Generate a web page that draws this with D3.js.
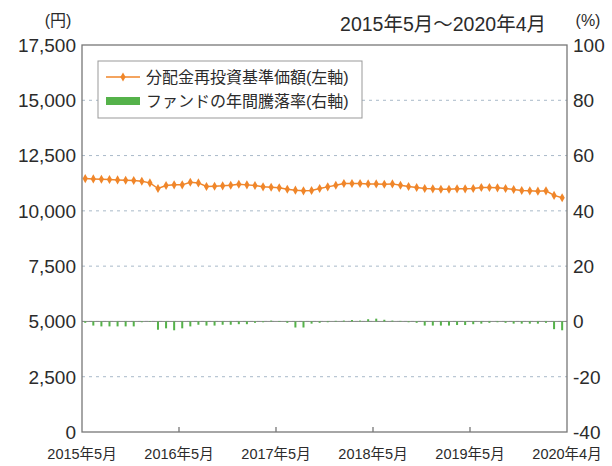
<!DOCTYPE html>
<html>
<head>
<meta charset="utf-8">
<script src="https://cdn.jsdelivr.net/npm/d3@7"></script>
<style>
body { margin: 0; background: #fff; }
svg { font-family: "Liberation Sans", "Noto Sans CJK JP", sans-serif; }
</style>
</head>
<body>
<script>
// monthly values, 2015/5 .. 2020/4 (60 months)
var navValues = [11460, 11445, 11430, 11415, 11400, 11385, 11370, 11340, 11265, 11010,
                 11145, 11175, 11175, 11295, 11265, 11100, 11115, 11130, 11160, 11205,
                 11175, 11145, 11085, 11070, 11040, 10980, 10935, 10905, 10920, 11010,
                 11085, 11160, 11235, 11235, 11235, 11220, 11220, 11205, 11220, 11160,
                 11100, 11055, 11010, 10995, 10980, 10980, 10995, 10995, 11010, 11055,
                 11055, 11040, 11010, 10965, 10920, 10905, 10890, 10905, 10700, 10590];

var returnValues = [-0.5, -1.5, -1.8, -1.8, -1.8, -1.8, -1.8, -0.3, -0.2, -3.0,
                    -2.5, -3.2, -2.5, -1.8, -1.2, -1.5, -1.5, -1.2, -1.2, -1.0,
                    -1.0, -0.5, -0.3, 0.3, -0.2, -0.5, -2.2, -2.2, -0.8, -0.5,
                    -0.3, 0.2, 0.3, 0.5, 0.3, 0.8, 1.0, 0.6, 0.3, 0.2,
                    -0.3, -0.5, -1.5, -1.5, -1.5, -1.5, -1.3, -1.3, -1.0, -0.8,
                    -0.5, -0.3, -0.5, -0.8, -0.8, -0.8, -0.8, -0.5, -2.8, -3.2];

var leftTicks = [0, 2500, 5000, 7500, 10000, 12500, 15000, 17500];
var rightTicks = [-40, -20, 0, 20, 40, 60, 80, 100];
var xTickMonths = [0, 12, 24, 36, 48, 60];
var xTickLabels = ['2015年5月', '2016年5月', '2017年5月', '2018年5月', '2019年5月', '2020年4月'];

var legendLabels = ['分配金再投資基準価額(左軸)', 'ファンドの年間騰落率(右軸)'];
var titleText = '2015年5月～2020年4月';

var width = 612, height = 466;
// plot area (don't call it "top", that's window.top)
var plotL = 82, plotR = 567, plotT = 45, plotB = 432;

var orange = '#f0862a';
var green = '#55b24a';
var textColor = '#2b2b2b';

var svg = d3.select('body').append('svg')
    .attr('width', width)
    .attr('height', height);

var x = d3.scaleLinear().domain([0, 60]).range([plotL, plotR]);
var yL = d3.scaleLinear().domain([0, 17500]).range([plotB, plotT]);
var yR = d3.scaleLinear().domain([-40, 100]).range([plotB, plotT]);

// points sit in the middle of each month
function px(i){ return x(i + 0.4); }

// dashed grid lines
svg.append('g')
    .selectAll('line')
    .data(leftTicks.filter(function(t){ return t > 0 && t < 17500; }))
    .join('line')
    .attr('x1', plotL).attr('x2', plotR)
    .attr('y1', function(d){ return yL(d); })
    .attr('y2', function(d){ return yL(d); })
    .attr('stroke', '#a9b9c9')
    .attr('stroke-width', 1)
    .attr('stroke-dasharray', '3,4');

// zero line for the right axis
svg.append('line')
    .attr('x1', plotL).attr('x2', plotR)
    .attr('y1', yR(0)).attr('y2', yR(0))
    .attr('stroke', '#888')
    .attr('stroke-width', 1);

// return bars
svg.append('g')
    .selectAll('rect')
    .data(returnValues)
    .join('rect')
    .attr('x', function(d, i){ return px(i) - 1; })
    .attr('width', 2)
    .attr('y', function(d){ return Math.min(yR(d), yR(0)); })
    .attr('height', function(d){ return Math.abs(yR(d) - yR(0)); })
    .attr('fill', green);

// nav line
var line = d3.line()
    .x(function(d, i){ return px(i); })
    .y(function(d){ return yL(d); });

svg.append('path')
    .datum(navValues)
    .attr('d', line)
    .attr('fill', 'none')
    .attr('stroke', orange)
    .attr('stroke-width', 1.5);

svg.append('g')
    .selectAll('path')
    .data(navValues)
    .join('path')
    .attr('d', d3.symbol().type(d3.symbolDiamond).size(24))
    .attr('transform', function(d, i){ return 'translate(' + px(i) + ',' + yL(d) + ')'; })
    .attr('fill', orange);

// frame
svg.append('rect')
    .attr('x', plotL).attr('y', plotT)
    .attr('width', plotR - plotL).attr('height', plotB - plotT)
    .attr('fill', 'none')
    .attr('stroke', '#777')
    .attr('stroke-width', 1.3);

// x ticks (inside)
svg.append('g')
    .selectAll('line')
    .data(xTickMonths.slice(1, -1))
    .join('line')
    .attr('x1', function(d){ return x(d); })
    .attr('x2', function(d){ return x(d); })
    .attr('y1', plotB).attr('y2', plotB - 5)
    .attr('stroke', '#777')
    .attr('stroke-width', 1.3);

// axis labels
svg.append('g')
    .selectAll('text')
    .data(leftTicks)
    .join('text')
    .attr('x', plotL - 6)
    .attr('y', function(d){ return yL(d); })
    .attr('dy', '0.36em')
    .attr('text-anchor', 'end')
    .attr('font-size', 19)
    .attr('fill', textColor)
    .text(function(d){ return d3.format(',')(d); });

svg.append('g')
    .selectAll('text')
    .data(rightTicks)
    .join('text')
    .attr('x', plotR + 6)
    .attr('y', function(d){ return yR(d); })
    .attr('dy', '0.36em')
    .attr('text-anchor', 'start')
    .attr('font-size', 19)
    .attr('fill', textColor)
    .text(function(d){ return d; });

svg.append('g')
    .selectAll('text')
    .data(xTickMonths)
    .join('text')
    .attr('x', function(d){ return x(d); })
    .attr('y', 459)
    .attr('text-anchor', 'middle')
    .attr('font-size', 14.5)
    .attr('fill', textColor)
    .text(function(d, i){ return xTickLabels[i]; });

svg.append('text')
    .attr('x', 58).attr('y', 26)
    .attr('text-anchor', 'middle')
    .attr('font-size', 16)
    .attr('fill', textColor)
    .text('(円)');

svg.append('text')
    .attr('x', 588).attr('y', 26)
    .attr('text-anchor', 'middle')
    .attr('font-size', 16)
    .attr('fill', textColor)
    .text('(%)');

svg.append('text')
    .attr('x', 546).attr('y', 31)
    .attr('text-anchor', 'end')
    .attr('font-size', 19.5)
    .attr('fill', textColor)
    .text(titleText);

// legend
var legend = svg.append('g');
legend.append('rect')
    .attr('x', 98).attr('y', 61)
    .attr('width', 264).attr('height', 57)
    .attr('fill', '#fff')
    .attr('stroke', '#999')
    .attr('stroke-width', 1);

legend.append('line')
    .attr('x1', 106).attr('x2', 140)
    .attr('y1', 77).attr('y2', 77)
    .attr('stroke', orange).attr('stroke-width', 1.5);
legend.append('path')
    .attr('d', d3.symbol().type(d3.symbolDiamond).size(24))
    .attr('transform', 'translate(123,77)')
    .attr('fill', orange);
legend.append('rect')
    .attr('x', 106).attr('y', 97)
    .attr('width', 34).attr('height', 8)
    .attr('fill', green);

legend.selectAll('text')
    .data(legendLabels)
    .join('text')
    .attr('x', 146)
    .attr('y', function(d, i){ return 77 + i * 24; })
    .attr('dy', '0.36em')
    .attr('font-size', 16)
    .attr('fill', textColor)
    .text(function(d){ return d; });
</script>
</body>
</html>
